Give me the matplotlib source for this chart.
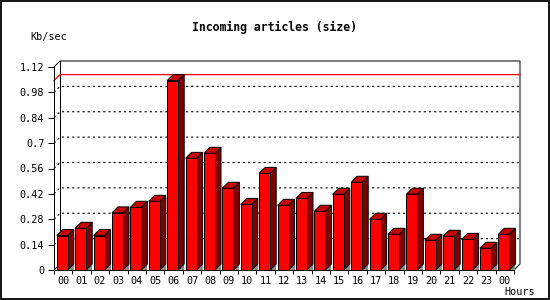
import matplotlib
matplotlib.use("Agg")
import matplotlib.pyplot as plt
import numpy as np
from matplotlib.patches import Polygon, Rectangle

# Datos
hours = ["00", "01", "02", "03", "04", "05", "06", "07", "08", "09", "10", "11",
         "12", "13", "14", "15", "16", "17", "18", "19", "20", "21", "22", "23", "00"]
kb_sec = [0.19, 0.23, 0.19, 0.315, 0.346, 0.379, 1.045, 0.616, 0.644, 0.451, 0.362, 0.533,
          0.357, 0.395, 0.324, 0.418, 0.484, 0.280, 0.197, 0.418, 0.164, 0.186, 0.169, 0.120, 0.197]
y_ticks = [0, 0.14, 0.28, 0.42, 0.56, 0.7, 0.84, 0.98, 1.12]
y_labels = ["0", "0.14", "0.28", "0.42", "0.56", "0.7", "0.84", "0.98", "1.12"]

FRONT = "#ff0000"
TOP = "#c80000"
SIDE = "#800000"
SHADOW = "#8c8c8c"
MONO = "DejaVu Sans Mono"
LW = 0.72  # 1 px
FS = 7.3

fig = plt.figure(figsize=(5.5, 3.0), dpi=100)
fig.patch.set_facecolor("white")
ax = fig.add_axes([54 / 550, 30 / 300, 460 / 550, 203 / 300])
n = len(kb_sec)
ax.set_xlim(0, n)
ax.set_ylim(0, y_ticks[-1])
ax.set_facecolor("none")

# profundidad 3D de 6 px convertida a unidades de datos
p0 = ax.transData.transform((0, 0))
ddx, ddy = ax.transData.inverted().transform(p0 + np.array([6.0, 6.0]))
ymax = y_ticks[-1]

# plano de fondo
back = [(0, ymax), (ddx, ymax + ddy), (n + ddx, ymax + ddy), (n + ddx, ddy), (n, 0)]
ax.plot([p[0] for p in back], [p[1] for p in back], color="black", lw=LW,
        clip_on=False, zorder=1, solid_joinstyle="miter")
ax.plot([ddx, ddx], [ddy, ymax + ddy], color="black", lw=LW, clip_on=False, zorder=1)
ax.plot([0, ddx], [0, ddy], color="black", lw=LW, clip_on=False, zorder=1)

# lineas de rejilla punteadas
for yv in y_ticks[1:-1]:
    ax.plot([0, ddx, n + ddx], [yv, yv + ddy, yv + ddy], color="black", lw=LW * 1.1,
            linestyle=(0, (2, 2.7)), clip_on=False, zorder=1)

# linea del maximo
m = max(kb_sec)
ax.plot([0, ddx, n + ddx], [m, m + ddy, m + ddy], color="red", lw=LW * 1.3,
        clip_on=False, zorder=1.5)

# barras 3D
for i, v in enumerate(kb_sec):
    x0 = i + 0.15
    x1 = x0 + 0.6
    ax.add_patch(Polygon([(x1, 0), (x1 + ddx, 0), (x1 + ddx, ddy)], closed=True,
                         facecolor=SHADOW, edgecolor="none", clip_on=False, zorder=2))
    ax.add_patch(Polygon([(x1, 0), (x1 + ddx, ddy), (x1 + ddx, v + ddy), (x1, v)],
                         closed=True, facecolor=SIDE, edgecolor="black", lw=LW,
                         clip_on=False, zorder=3))
    ax.add_patch(Polygon([(x0, v), (x0 + ddx, v + ddy), (x1 + ddx, v + ddy), (x1, v)],
                         closed=True, facecolor=TOP, edgecolor="black", lw=LW,
                         clip_on=False, zorder=3))
    ax.add_patch(Rectangle((x0, 0), 0.6, v, facecolor=FRONT, edgecolor="black",
                           lw=LW, clip_on=False, zorder=4))

# ejes
for s in ("top", "right"):
    ax.spines[s].set_visible(False)
for s in ("left", "bottom"):
    ax.spines[s].set_linewidth(LW)
    ax.spines[s].set_zorder(5)

ax.set_yticks(y_ticks)
ax.set_yticklabels(y_labels, family=MONO, fontsize=FS)
ax.tick_params(axis="y", direction="out", length=4, width=LW, pad=3)

ax.set_xticks(np.arange(0, n + 1))
ax.set_xticklabels([])
ax.set_xticks(np.arange(n) + 0.5, minor=True)
ax.set_xticklabels(hours, minor=True, family=MONO, fontsize=FS)
ax.tick_params(axis="x", which="major", direction="out", length=3, width=LW)
ax.tick_params(axis="x", which="minor", length=0, pad=4)

fig.text(274 / 550, 1 - 27 / 300, "Incoming articles (size)", family=MONO,
         fontsize=8.3, fontweight="bold", ha="center", va="center")
fig.text(30 / 550, 1 - 37 / 300, "Kb/sec", family=MONO, fontsize=FS,
         ha="left", va="center")
fig.text(504 / 550, 1 - 292 / 300, "Hours", family=MONO, fontsize=FS,
         ha="left", va="center")

# marco exterior
fig.patches.append(Rectangle((0.5 / 550, 0.8 / 300), 548.5 / 550, 298.5 / 300,
                             transform=fig.transFigure, fill=False,
                             edgecolor="black", lw=1.3))

fig.savefig("out.png", dpi=100)
